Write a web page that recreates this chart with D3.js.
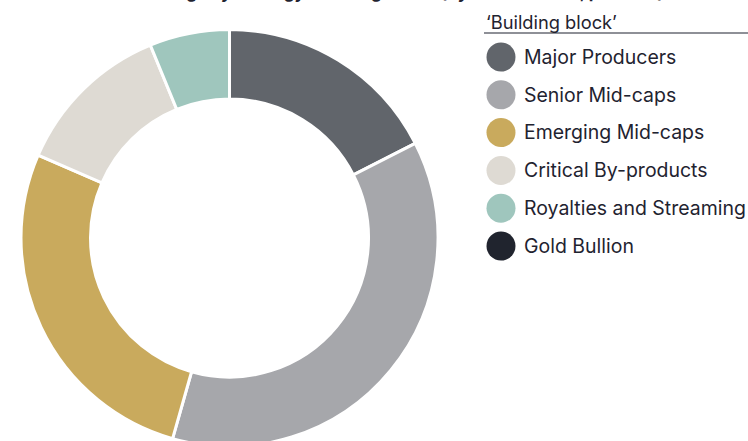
<!DOCTYPE html>
<html>
<head>
<meta charset="utf-8">
<script src="https://cdn.jsdelivr.net/npm/d3@7"></script>
<style>
  html, body { margin: 0; padding: 0; background: #fff; }
  svg { display: block; }
  text { font-family: Inter, "Noto Sans", sans-serif; fill: #1f2330; }
</style>
</head>
<body>
<div id="chart"></div>
<script>
// chart data
const categories = ['Major Producers', 'Senior Mid-caps', 'Emerging Mid-caps', 'Critical By-products', 'Royalties and Streaming', 'Gold Bullion'];
const weights = [17.5, 36.9, 27.1, 12.3, 6.2, 0];
const colours = ['#61656b', '#a6a7ab', '#c9aa5d', '#dedad3', '#9fc6bd', '#20242e'];
const legendTitle = '\u2018Building block\u2019';
const chartTitle = 'Portfolio holdings by strategy \u2018Building block\u2019 (by market value, per cent)';

const width = 748, height = 441;

const svg = d3.select('#chart')
    .append('svg')
    .attr('width', width)
    .attr('height', height);

// title sits mostly above the frame, only the descenders show
svg.append('text')
    .attr('x', 60)
    .attr('y', -2)
    .style('font-weight', 700)
    .style('font-size', '17px')
    .text(chartTitle);

// donut
const cx = 229.5, cy = 238, outerR = 208.5, innerR = 139;

const pie = d3.pie().sort(null).value(d => d.value);
const arc = d3.arc().innerRadius(innerR).outerRadius(outerR);

const data = categories.map((c, i) => ({ name: c, value: weights[i], colour: colours[i] }));

const g = svg.append('g').attr('transform', `translate(${cx},${cy})`);
g.selectAll('path')
    .data(pie(data).filter(d => d.data.value > 0))
    .enter()
    .append('path')
    .attr('d', arc)
    .attr('fill', d => d.data.colour)
    .attr('stroke', '#fff')
    .attr('stroke-width', 3)
    .attr('stroke-linejoin', 'miter');

// legend
const legendX = 486;
const legend = svg.append('g');

const lt = legend.append('text')
    .attr('x', legendX)
    .attr('y', 29)
    .style('font-size', '15px')
    .text(legendTitle);
// fit to the width
const ltw = lt.node().getComputedTextLength();
lt.style('font-size', (15 * 131 / ltw).toFixed(2) + 'px');

legend.append('line')
    .attr('x1', legendX - 2)
    .attr('x2', width)
    .attr('y1', 33)
    .attr('y2', 33)
    .attr('stroke', '#1f2330')
    .attr('stroke-width', 1.2);

const y = d3.scalePoint()
    .domain(categories)
    .range([57, 246]);

const items = legend.selectAll('g.item')
    .data(data)
    .enter()
    .append('g')
    .attr('class', 'item')
    .attr('transform', d => `translate(0,${y(d.name)})`);

items.append('circle')
    .attr('cx', 501)
    .attr('cy', 0)
    .attr('r', 14.5)
    .attr('fill', d => d.colour);

const labels = items.append('text')
    .attr('x', 524)
    .attr('dy', '0.35em')
    .style('font-size', '16px')
    .text(d => d.name);

// scale label font so the longest one spans ~222px like the original
let longest = 0;
labels.each(function() { longest = Math.max(longest, this.getComputedTextLength()); });
labels.style('font-size', (16 * 222 / longest).toFixed(2) + 'px');
</script>
</body>
</html>
